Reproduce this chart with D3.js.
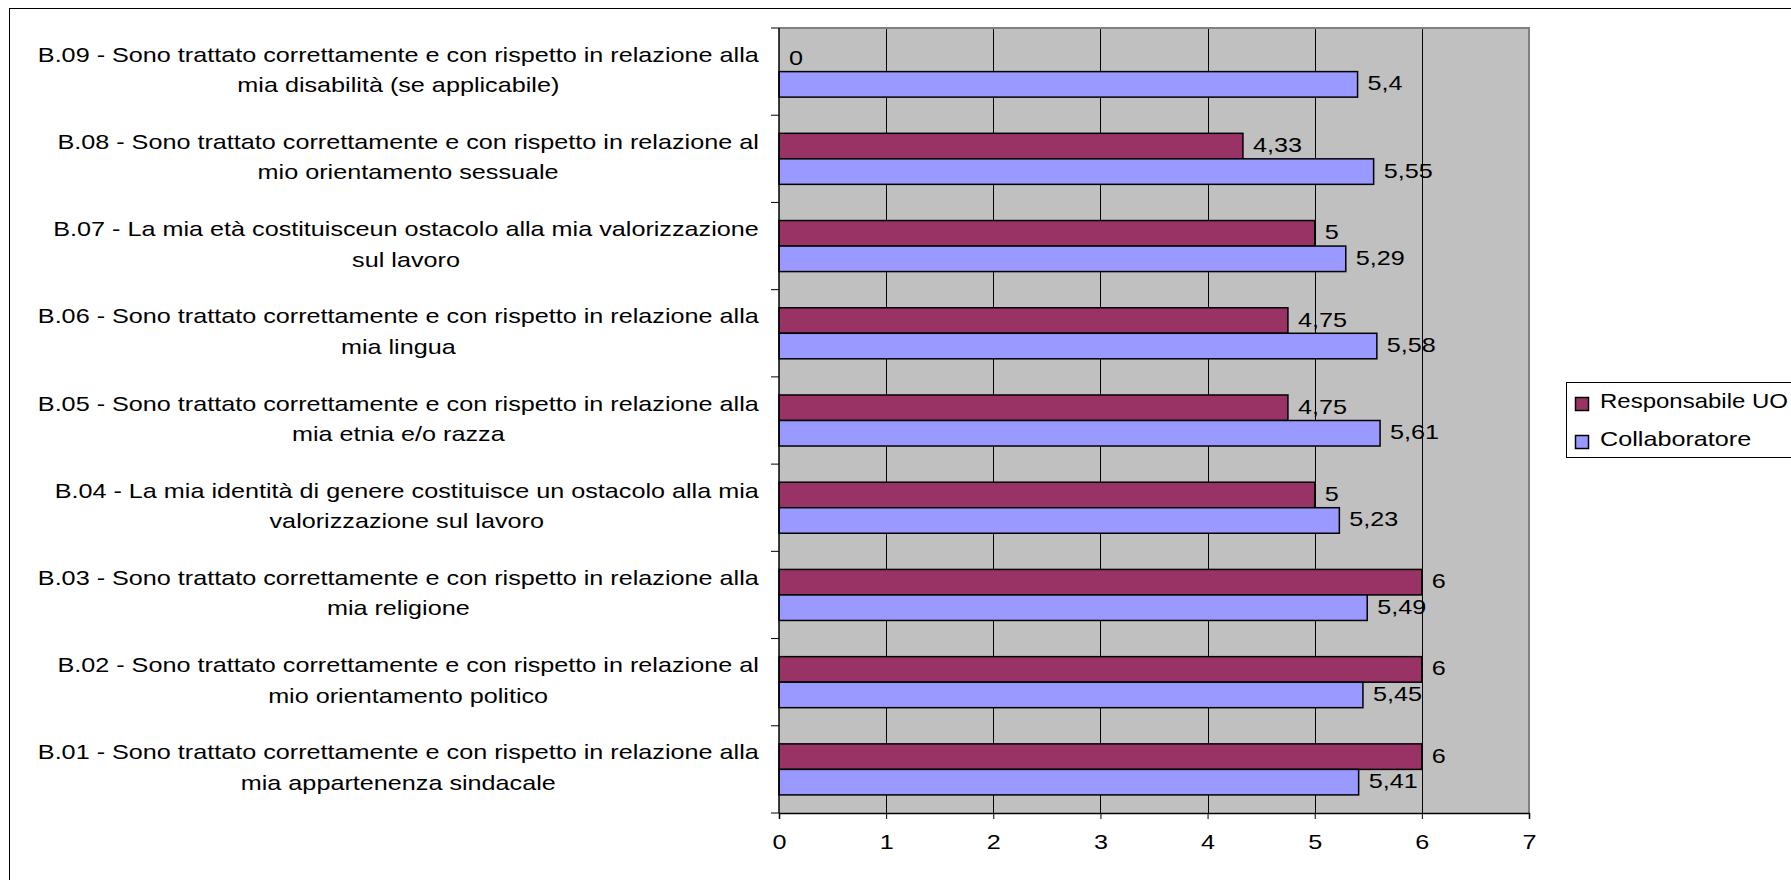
<!DOCTYPE html>
<html>
<head>
<meta charset="utf-8">
<script src="https://cdn.jsdelivr.net/npm/d3@7"></script>
<style>
  html, body { margin: 0; padding: 0; background: #fff; overflow: hidden; }
  svg { display: block; }
  text { font-family: "Liberation Sans", Arial, sans-serif; fill: #000; }
</style>
</head>
<body>
<svg id="chart" width="1791" height="880"></svg>
<script>
// Item codes, top to bottom
const categories = ["B.09", "B.08", "B.07", "B.06", "B.05", "B.04", "B.03", "B.02", "B.01"];

// Wrapped question text for each item
const categoryLines = [
  ["B.09 - Sono trattato correttamente e con rispetto in relazione alla", "mia disabilità (se applicabile)"],
  ["B.08 - Sono trattato correttamente e con rispetto in relazione al", "mio orientamento sessuale"],
  ["B.07 - La mia età costituisceun ostacolo alla mia valorizzazione", "sul lavoro"],
  ["B.06 - Sono trattato correttamente e con rispetto in relazione alla", "mia lingua"],
  ["B.05 - Sono trattato correttamente e con rispetto in relazione alla", "mia etnia e/o razza"],
  ["B.04 - La mia identità di genere costituisce un ostacolo alla mia", "valorizzazione sul lavoro"],
  ["B.03 - Sono trattato correttamente e con rispetto in relazione alla", "mia religione"],
  ["B.02 - Sono trattato correttamente e con rispetto in relazione al", "mio orientamento politico"],
  ["B.01 - Sono trattato correttamente e con rispetto in relazione alla", "mia appartenenza sindacale"]
];

const seriesNames = ["Responsabile UO", "Collaboratore"];
const responsabileValues = [0, 4.33, 5, 4.75, 4.75, 5, 6, 6, 6];
const collaboratoreValues = [5.4, 5.55, 5.29, 5.58, 5.61, 5.23, 5.49, 5.45, 5.41];
const xTicks = [0, 1, 2, 3, 4, 5, 6, 7];

const seriesColors = ["#993366", "#9999FF"];

const plot = { left: 779, right: 1529, top: 28, bottom: 813 };
const FONT_SIZE = 20;
const STRETCH = 1.26;   // wide horizontal text rendering

const svg = d3.select("#chart");

// Outer chart frame (runs past the right and bottom edges)
svg.append("rect")
  .attr("x", 9.5).attr("y", 8.5)
  .attr("width", 2000).attr("height", 1000)
  .attr("fill", "none").attr("stroke", "#000").attr("stroke-width", 1);

const x = d3.scaleLinear().domain([0, 7]).range([plot.left, plot.right]);
const y = d3.scaleBand().domain(categories).range([plot.top, plot.bottom])
  .paddingInner(0.415).paddingOuter(0.2075);
const ySeries = d3.scaleBand().domain(seriesNames).range([0, y.bandwidth()]);

// Plot area background
svg.append("rect")
  .attr("x", plot.left).attr("y", plot.top)
  .attr("width", plot.right - plot.left).attr("height", plot.bottom - plot.top)
  .attr("fill", "#C0C0C0");

// Vertical gridlines
svg.append("g")
  .selectAll("line")
  .data(xTicks.filter(t => t > 0 && t < 7))
  .join("line")
  .attr("x1", d => Math.round(x(d)) + 0.5).attr("x2", d => Math.round(x(d)) + 0.5)
  .attr("y1", plot.top).attr("y2", plot.bottom)
  .attr("stroke", "#000").attr("stroke-width", 1);

// Plot border: grey top and right edges
svg.append("path")
  .attr("d", `M${plot.left},${plot.top}H${plot.right}V${plot.bottom}`)
  .attr("fill", "none").attr("stroke", "#808080").attr("stroke-width", 2);

// Bars
const rows = categories.map((c, i) => ({
  cat: c,
  values: [responsabileValues[i], collaboratoreValues[i]]
}));

const groups = svg.append("g").selectAll("g")
  .data(rows)
  .join("g")
  .attr("transform", d => `translate(0,${y(d.cat)})`);

groups.selectAll("rect")
  .data(d => d.values.map((v, k) => ({ v, k })))
  .join("rect")
  .filter(d => d.v > 0)
  .attr("x", x(0))
  .attr("y", d => ySeries(seriesNames[d.k]))
  .attr("width", d => x(d.v) - x(0))
  .attr("height", ySeries.bandwidth())
  .attr("fill", d => seriesColors[d.k])
  .attr("stroke", "#000").attr("stroke-width", 1.5);

// Value labels
const fmt = v => String(v).replace(".", ",");
groups.selectAll("text.val")
  .data(d => d.values.map((v, k) => ({ v, k })))
  .join("text")
  .attr("class", "val")
  .attr("transform", d =>
    `translate(${x(d.v) + 10},${ySeries(seriesNames[d.k]) + ySeries.bandwidth() / 2}) scale(${STRETCH},1)`)
  .attr("dy", "0.3em")
  .attr("font-size", FONT_SIZE)
  .text(d => fmt(d.v));

// Left axis (category boundaries as ticks)
const yAxisG = svg.append("g");
yAxisG.append("line")
  .attr("x1", plot.left).attr("x2", plot.left)
  .attr("y1", plot.top).attr("y2", plot.bottom)
  .attr("stroke", "#000").attr("stroke-width", 1.5);
const boundaries = d3.range(categories.length + 1)
  .map(i => plot.top + i * (plot.bottom - plot.top) / categories.length);
yAxisG.selectAll("line.tick")
  .data(boundaries)
  .join("line")
  .attr("class", "tick")
  .attr("x1", plot.left - 8).attr("x2", plot.left)
  .attr("y1", d => d).attr("y2", d => d)
  .attr("stroke", "#000").attr("stroke-width", 1);

// Category labels: block right-aligned to the axis, lines centred within the block
const labelRight = 759;
const labelG = svg.append("g");
categories.forEach((c, i) => {
  const cy = y(c) + y.bandwidth() / 2;
  const g = labelG.append("g");
  const t = g.append("text")
    .attr("font-size", FONT_SIZE)
    .attr("text-anchor", "middle");
  const spans = categoryLines[i].map((line, j) =>
    t.append("tspan").attr("x", 0).attr("y", j === 0 ? -10 : 20.5).text(line));
  const w = d3.max(spans, s => s.node().getComputedTextLength()) * STRETCH;
  g.attr("transform", `translate(${labelRight - w / 2},${cy}) scale(${STRETCH},1)`);
});

// Bottom axis
const xAxis = d3.axisBottom(x).tickValues(xTicks).tickSize(6).tickPadding(16).tickFormat(d3.format("d"));
const xAxisG = svg.append("g")
  .attr("transform", `translate(0,${plot.bottom})`)
  .call(xAxis);
xAxisG.select(".domain").attr("stroke", "#000").attr("stroke-width", 1.5);
xAxisG.selectAll(".tick line").attr("stroke", "#000");
xAxisG.selectAll(".tick text")
  .attr("font-size", FONT_SIZE)
  .attr("font-family", "'Liberation Sans', Arial, sans-serif")
  .attr("fill", "#000")
  .attr("transform", `scale(${STRETCH},1)`);

// Legend (box runs past the right edge; entries kept inside the page)
const legend = svg.append("g");
legend.append("rect")
  .attr("x", 1566.5).attr("y", 382.5)
  .attr("width", 400).attr("height", 75)
  .attr("fill", "#fff").attr("stroke", "#000").attr("stroke-width", 1);
const legendTextX = 1600, legendTextMaxRight = 1788;
seriesNames.forEach((name, k) => {
  const baseY = 408 + k * 38;
  legend.append("rect")
    .attr("x", 1575.5).attr("y", baseY - 10.5)
    .attr("width", 13).attr("height", 13)
    .attr("fill", seriesColors[k]).attr("stroke", "#000").attr("stroke-width", 1.5);
  const t = legend.append("text")
    .attr("font-size", FONT_SIZE)
    .text(name);
  const w = t.node().getComputedTextLength();
  const sx = Math.min(STRETCH, (legendTextMaxRight - legendTextX) / w);
  t.attr("transform", `translate(${legendTextX},${baseY}) scale(${sx},1)`);
});
</script>
</body>
</html>
